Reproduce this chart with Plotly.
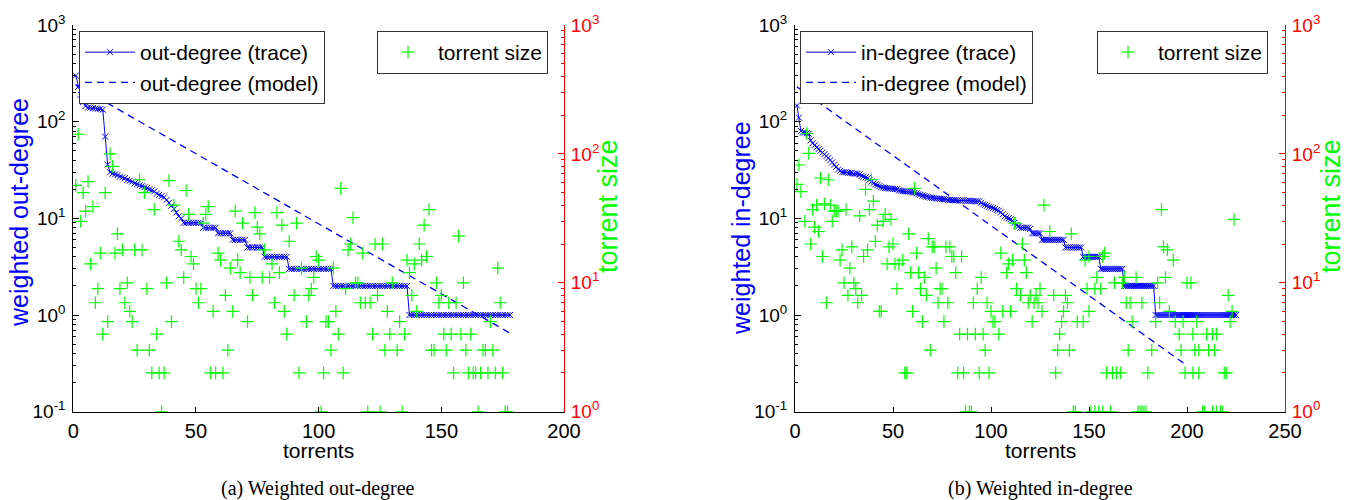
import plotly.graph_objects as go

W, H = 1356, 500

# ---------------- data: (a) weighted out-degree ----------------
out_idx = list(range(1, 179))
out_trace = ([300, 230, 190, 160, 145,
              140, 140, 138, 137, 136, 135, 133,
              70, 36, 30,
              29, 28.5, 28, 27, 26.5,
              26, 25, 24.5, 24, 23,
              22.5, 22, 21.5, 21, 20.5,
              20, 19.5, 19, 18, 17.5,
              17, 16.5, 15.5, 14.5, 13.5,
              12.5, 11.5, 10.5, 10]
             + [9] * 8 + [8] * 6 + [7] * 6 + [6] * 6 + [5] * 7
             + [4] * 10 + [3] * 18 + [2] * 31 + [1] * 42)
out_model_idx = [1, 50, 100, 150, 178]
out_model = [239, 46.7, 8.8, 1.65, 0.65]
out_size_idx = [1, 2, 3, 4, 5, 6, 7, 8, 9, 10, 11, 12, 13, 14, 15, 16, 17, 18, 19, 20,
                21, 22, 23, 24, 25, 26, 27, 28, 29, 30, 31, 32, 33, 34, 35, 36, 37, 38, 39, 40,
                41, 43, 44, 45, 46, 47, 48, 49, 50, 51, 52, 53, 54, 55, 56, 57, 58, 59, 60, 61,
                62, 63, 64, 65, 66, 67, 68, 69, 71, 72, 73, 74, 75, 76, 77, 78, 80, 81, 82, 83,
                84, 85, 86, 87, 88, 90, 91, 92, 93, 95, 96, 97, 98, 99, 100, 101, 102, 103, 104, 105,
                106, 107, 108, 109, 110, 111, 112, 113, 114, 115, 116, 117, 118, 119, 120, 121, 122, 123, 124, 125,
                126, 127, 128, 129, 130, 132, 133, 134, 135, 136, 137, 138, 139, 140, 141, 142, 143, 144, 145, 146,
                147, 148, 149, 150, 151, 152, 153, 154, 155, 156, 157, 158, 159, 160, 161, 162, 163, 164, 165, 166,
                167, 168, 169, 170, 171, 172, 173, 174, 175, 176, 177]
out_size = [57, 142, 30, 50, 36, 61, 14, 39, 7, 9, 17, 4, 50, 5, 100, 80, 17, 24, 9, 18,
            7, 10, 6, 5, 18, 3, 63, 18, 50, 9, 3, 2, 37, 4, 2, 1, 2, 10, 62, 5,
            40, 21, 18, 11, 52, 34, 16, 14, 9, 7, 9, 29, 34, 39, 2, 6, 2, 17, 15, 2,
            8, 3, 13, 6, 36, 15, 12, 29, 5, 11, 8, 35, 27, 24, 11, 18, 11, 14, 7, 35,
            12, 28, 6, 4, 21, 8, 29, 2, 13, 5, 8, 9, 11, 16, 15, 1, 2, 5, 5, 3,
            13, 6, 4, 54, 2, 9, 18, 20, 32, 10, 10, 7, 17, 7, 1, 7, 4, 20, 8, 1,
            20, 3, 6, 4, 10, 3, 5, 1, 4, 15, 12, 8, 14, 6, 20, 15, 28, 16, 37, 3,
            3, 10, 7, 8, 4, 3, 7, 4, 2, 7, 23, 4, 10, 3, 2, 4, 2, 2, 1, 2,
            3, 3, 2, 5, 3, 2, 13, 7, 2, 1, 1]

# ---------------- data: (b) weighted in-degree ----------------
in_idx = list(range(1, 226))
in_trace = ([147, 110, 80, 77, 77, 76, 75,
             64, 60, 57, 54, 52,
             50, 48, 46, 44, 42,
             40, 38, 36, 34, 32, 31,
             30, 30, 30, 29.5, 29.5, 29.5, 29, 29, 29, 28.5,
             27.5, 27, 26.5, 26, 25,
             24, 23, 22.5, 22, 21.5, 21,
             20.8, 20.6, 20.5, 20.4, 20.3, 20.2, 20.1, 20,
             19.4, 19.3, 19.2, 19.1, 19, 18.9, 18.8, 18.7,
             18.4, 18.1, 17.8, 17.5, 17.2, 17, 16.8,
             16.6, 16.4, 16.3, 16.2, 16.1, 16, 15.9, 15.8, 15.8, 15.7,
             15.5, 15.5, 15.5, 15.4, 15.4, 15.4, 15.3, 15.3, 15.3, 15.2, 15.2, 15.2, 15.1, 15.1, 15, 15, 15,
             14.5, 14, 13.8, 13.5, 13.2, 13, 12.8,
             12.5, 12.2, 12, 11.5, 11, 10.5, 10.2,
             10, 9.8, 9.5, 9, 8.5, 8.3,
             8, 8, 8, 8, 8, 7.8]
            + [7] * 5 + [6] * 12 + [5] * 9 + [4] * 9 + [3] * 12 + [2] * 16 + [1] * 42)
in_model_idx = [1, 50, 100, 150, 200]
in_model = [229, 44.8, 8.45, 1.6, 0.30]
in_size_idx = [1, 2, 3, 5, 6, 7, 8, 9, 10, 11, 12, 13, 14, 15, 16, 17, 18, 19, 20, 21,
               22, 23, 24, 25, 26, 27, 28, 29, 30, 31, 32, 33, 34, 35, 36, 37, 38, 39, 40, 41,
               42, 43, 44, 45, 46, 47, 48, 49, 50, 51, 52, 53, 55, 56, 57, 58, 59, 60, 61, 62,
               63, 64, 65, 66, 67, 68, 69, 70, 71, 72, 73, 74, 75, 76, 77, 78, 79, 80, 81, 82,
               83, 84, 85, 86, 87, 88, 89, 90, 91, 92, 93, 94, 95, 96, 97, 98, 99, 100, 101, 102,
               104, 105, 106, 108, 109, 110, 111, 112, 113, 115, 116, 117, 118, 119, 120, 121, 122, 123, 124, 125,
               126, 127, 130, 132, 133, 134, 135, 136, 137, 138, 139, 140, 141, 142, 143, 144, 147, 148, 149, 150,
               150, 151, 153, 153, 154, 155, 156, 157, 157, 158, 159, 161, 162, 163, 164, 166, 167, 168, 169, 170,
               171, 172, 174, 175, 176, 177, 177, 178, 179, 180, 182, 184, 185, 186, 187, 188, 189, 190, 191, 193,
               194, 196, 197, 198, 199, 200, 202, 203, 203, 204, 205, 206, 206, 208, 209, 210, 211, 213, 213, 214,
               215, 215, 217, 218, 219, 220, 221, 222, 223, 224]
in_size = [58, 82, 51, 30, 144, 101, 20, 37, 27, 40, 25, 65, 16, 41, 7, 63, 40, 30, 36, 36,
           36, 15, 18, 10, 37, 8, 13, 19, 10, 9, 7, 33, 8, 16, 53, 18, 37, 63, 43, 21,
           28, 6, 6, 30, 34, 14, 19, 31, 20, 14, 9, 14, 15, 2, 2, 24, 12, 6, 54, 17,
           12, 9, 5, 11, 8, 22, 3, 19, 19, 13, 7, 9, 9, 5, 19, 7, 19, 16, 16, 12,
           2, 4, 16, 2, 1, 4, 1, 1, 7, 4, 9, 2, 11, 4, 3, 7, 2, 6, 5, 5,
           4, 17, 6, 12, 14, 6, 15, 29, 9, 8, 20, 15, 12, 7, 8, 5, 7, 8, 7, 9,
           6, 40, 25, 8, 2, 3, 4, 5, 6, 8, 7, 3, 24, 1, 1, 5, 5, 15, 9, 6,
           16, 1, 1, 9, 11, 1, 9, 1, 16, 17, 2, 1, 2, 10, 2, 2, 10, 11, 7, 3,
           7, 5, 11, 1, 1, 1, 7, 1, 1, 2, 3, 5, 10, 7, 37, 19, 11, 18, 6, 15,
           5, 4, 3, 5, 2, 10, 10, 2, 4, 3, 5, 2, 3, 1, 1, 4, 3, 1, 4, 3,
           1, 4, 1, 1, 2, 2, 8, 5, 6, 31]

# ---------------- styling helpers ----------------
FONT = "Liberation Sans"
BLUE = "#0000ff"
GREEN = "#00ff00"
RED = "#ff0000"


def px_x(p):
    return p / W


def px_y(p):
    return 1 - p / H


log_ticks_left = [0.1, 1, 10, 100, 1000]
log_text_left = ["10<sup>-1</sup>", "10<sup>0</sup>", "10<sup>1</sup>", "10<sup>2</sup>", "10<sup>3</sup>"]
log_ticks_right = [1, 10, 100, 1000]
log_text_right = ["10<sup>0</sup>", "10<sup>1</sup>", "10<sup>2</sup>", "10<sup>3</sup>"]
minor_left = [m * 10 ** k for k in range(-1, 3) for m in range(2, 10)]
minor_right = [m * 10 ** k for k in range(0, 3) for m in range(2, 10)]

fig = go.Figure()


def add_panel(xa, ya, yb, idx, trace, midx, model, sidx, size, name, lg_a, lg_b):
    fig.add_trace(go.Scatter(
        x=idx, y=trace, mode="lines+markers", name=f"{name} (trace)",
        line=dict(color=BLUE, width=1),
        marker=dict(symbol="x-thin", size=6, line=dict(color=BLUE, width=1), color=BLUE),
        xaxis=xa, yaxis=ya, legend=lg_a))
    fig.add_trace(go.Scatter(
        x=midx, y=model, mode="lines", name=f"{name} (model)",
        line=dict(color=BLUE, width=1.3, dash="7px,5px"),
        xaxis=xa, yaxis=ya, legend=lg_a))
    fig.add_trace(go.Scatter(
        x=sidx, y=size, mode="markers", name="torrent size",
        marker=dict(symbol="cross-thin", size=9, line=dict(color=GREEN, width=1.2), color=GREEN),
        xaxis=xa, yaxis=yb, legend=lg_b))


add_panel("x", "y", "y2", out_idx, out_trace, out_model_idx, out_model,
          out_size_idx, out_size, "out-degree", "legend", "legend2")
add_panel("x2", "y3", "y4", in_idx, in_trace, in_model_idx, in_model,
          in_size_idx, in_size, "in-degree", "legend3", "legend4")

ydom = [px_y(411.7), px_y(25)]
xtickfont = dict(family=FONT, size=20, color="black")
ytickfont = dict(family=FONT, size=19, color="black")


def xaxis(dom, rng, tv):
    return dict(domain=dom, range=rng, tickvals=tv, ticks="inside", ticklen=5,
                tickcolor="black", showline=True, linecolor="black", linewidth=1,
                showgrid=False, zeroline=False, tickfont=xtickfont, automargin=False,
                ticklabelstandoff=1)


def yleft(anchor):
    return dict(domain=ydom, type="log", range=[-1, 3], anchor=anchor,
                tickvals=log_ticks_left, ticktext=log_text_left, ticks="inside",
                ticklen=6, tickcolor="black", showline=True, linecolor="black",
                linewidth=1, showgrid=False, zeroline=False, tickfont=ytickfont,
                automargin=False, ticklabelstandoff=3,
                minor=dict(tickvals=minor_left, ticks="inside", ticklen=3, tickcolor="black"))


def yright(over, anchor):
    return dict(overlaying=over, anchor=anchor, side="right", type="log", range=[0, 3],
                tickvals=log_ticks_right, ticktext=log_text_right, ticks="inside",
                ticklen=6, tickcolor=RED, showline=True, linecolor=RED, linewidth=1,
                showgrid=False, zeroline=False,
                tickfont=dict(family=FONT, size=19, color=RED),
                automargin=False, ticklabelstandoff=2,
                minor=dict(tickvals=minor_right, ticks="inside", ticklen=3, tickcolor=RED))


def legend(xp, yp, ew):
    return dict(x=px_x(xp), y=px_y(yp), xanchor="left", yanchor="top", xref="paper", yref="paper",
                bgcolor="white", bordercolor="#333333", borderwidth=1, itemwidth=50,
                entrywidth=ew, entrywidthmode="pixels",
                font=dict(family=FONT, size=21, color="black"), tracegroupgap=0)


annotations = []


def ann(text, xp, yp, size, color="black", angle=0, family=FONT):
    annotations.append(dict(text=text, x=px_x(xp), y=px_y(yp), xref="paper", yref="paper",
                            showarrow=False, textangle=angle, xanchor="center", yanchor="middle",
                            font=dict(family=family, size=size, color=color)))


ann("weighted out-degree", 19, 213, 25, BLUE, -90)
ann("torrent size", 608, 206, 27, GREEN, -90)
ann("torrents", 318, 450, 21)
ann("(a) Weighted out-degree", 318, 488, 20, family="Liberation Serif")
ann("weighted in-degree", 741, 228, 25, BLUE, -90)
ann("torrent size", 1331, 206, 27, GREEN, -90)
ann("torrents", 1040, 450, 21)
ann("(b) Weighted in-degree", 1040, 488, 20, family="Liberation Serif")

fig.update_layout(
    width=W, height=H, autosize=False,
    margin=dict(l=0, r=0, t=0, b=0, pad=0),
    paper_bgcolor="white", plot_bgcolor="white",
    xaxis=xaxis([px_x(73.3), px_x(564)], [0, 200], [0, 50, 100, 150, 200]),
    yaxis=yleft("x"),
    yaxis2=yright("y", "x"),
    xaxis2=xaxis([px_x(795), px_x(1285)], [0, 250], [0, 50, 100, 150, 200, 250]) | dict(anchor="y3"),
    yaxis3=yleft("x2"),
    yaxis4=yright("y3", "x2"),
    legend=legend(79, 31, 264),
    legend2=legend(377, 31, 180),
    legend3=legend(800, 31, 252),
    legend4=legend(1097, 31, 182),
    annotations=annotations,
    showlegend=True,
)

fig.write_html("out.html")
